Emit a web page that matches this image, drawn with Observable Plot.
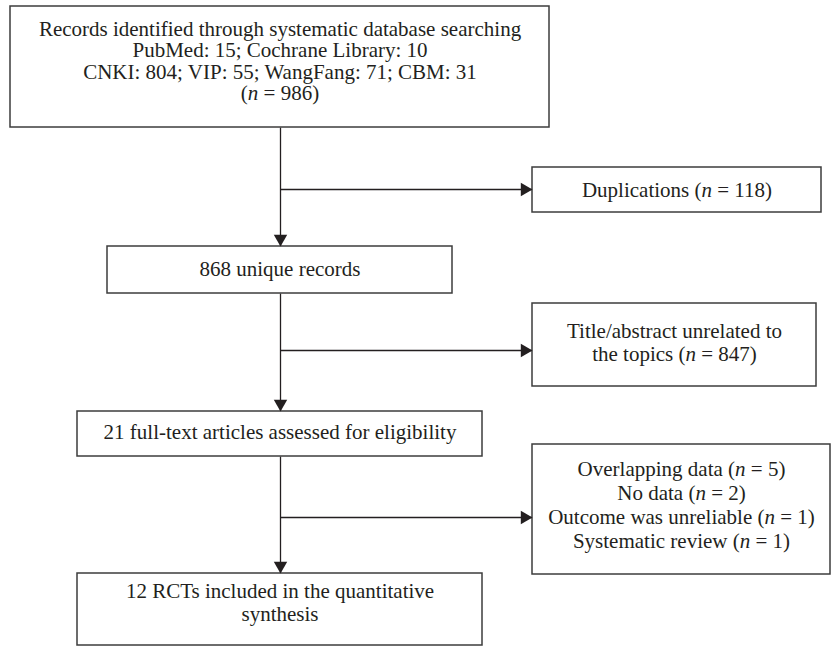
<!DOCTYPE html>
<html>
<head>
<meta charset="utf-8">
<script src="https://cdn.jsdelivr.net/npm/d3@7"></script>
<script src="https://cdn.jsdelivr.net/npm/@observablehq/plot@0.6"></script>
<style>
  html, body { margin: 0; padding: 0; background: #fff; }
  #chart { width: 831px; height: 646px; }
</style>
</head>
<body>
<div id="chart"></div>
<script>
// ---- data ----
const databases = ["PubMed", "Cochrane Library", "CNKI", "VIP", "WangFang", "CBM"];
const dbCounts = [15, 10, 804, 55, 71, 31];
const totalIdentified = 986;
const duplications = 118;
const uniqueRecords = 868;
const unrelated = 847;
const fullText = 21;
const exclusionReasons = ["Overlapping data", "No data", "Outcome was unreliable", "Systematic review"];
const exclusionCounts = [5, 2, 1, 1];
const included = 12;

const db = databases.map((d, i) => `${d}: ${dbCounts[i]}`);
const labels = [
  `Records identified through systematic database searching\n${db.slice(0, 2).join("; ")}\n${db.slice(2).join("; ")}\n(n = ${totalIdentified})`,
  `Duplications (n = ${duplications})`,
  `${uniqueRecords} unique records`,
  `Title/abstract unrelated to\nthe topics (n = ${unrelated})`,
  `${fullText} full-text articles assessed for eligibility`,
  exclusionReasons.map((r, i) => `${r} (n = ${exclusionCounts[i]})`).join("\n"),
  `${included} RCTs included in the quantitative\nsynthesis`
];

// ---- layout (pixels) ----
const boxX1 = [10, 532, 107, 532, 77, 532, 77];
const boxX2 = [549, 821, 452, 816, 482, 830, 482];
const boxY1 = [6, 167, 246, 303, 411, 444, 573];
const boxY2 = [127, 212, 293, 386, 456, 574, 645];
const textY = [60.7, 189.3, 268.3, 341.8, 431.3, 503.8, 602];
const lineH = [1.02, 1, 1, 1.1, 1, 1.14, 1.1];
const spineX = 280;
// flow steps: [from box, to box, side box, branch y]
const steps = [[0, 2, 1, 189], [2, 4, 3, 350], [4, 6, 5, 517]];

const boxes = labels.map((text, i) => ({
  text, x1: boxX1[i], x2: boxX2[i], y1: boxY1[i], y2: boxY2[i],
  tx: (boxX1[i] + boxX2[i]) / 2, ty: textY[i], lh: lineH[i]
}));

const headR = 5;
const tipOff = 2 * Math.sqrt((headR * headR * Math.PI) / (Math.sqrt(3) * 3));
const segs = [];
const heads = [];
for (const [a, b, s, by] of steps) {
  segs.push({x1: spineX, y1: boxY2[a], x2: spineX, y2: boxY1[b]});
  segs.push({x1: spineX, y1: by, x2: boxX1[s], y2: by});
  heads.push({x: spineX, y: boxY1[b] - tipOff, rot: 180});
  heads.push({x: boxX1[s] - tipOff, y: by, rot: 90});
}

const ink = "#231f20";
const font = "'Liberation Serif', 'Times New Roman', serif";

const svg = Plot.plot({
  width: 831,
  height: 646,
  margin: 0,
  x: {type: "linear", domain: [0, 831], range: [0, 831], axis: null},
  y: {type: "linear", domain: [0, 646], range: [0, 646], axis: null},
  style: {background: "#fff"},
  marks: [
    Plot.link(segs, {x1: "x1", y1: "y1", x2: "x2", y2: "y2", stroke: ink, strokeWidth: 1.3}),
    Plot.rect(boxes, {x1: "x1", x2: "x2", y1: "y1", y2: "y2", fill: "#fff", stroke: "#3c3c3c", strokeWidth: 1.5}),
    Plot.dot(heads, {x: "x", y: "y", symbol: "triangle", r: headR, fill: ink, stroke: "none", rotate: "rot"}),
    ...boxes.map(b => Plot.text([b], {
      x: "tx", y: "ty", text: "text", fontSize: 21, lineHeight: b.lh,
      fontFamily: font, fill: ink, textAnchor: "middle"
    }))
  ]
});

// italic "n" in "(n = ...)"
(function italicizeN(root) {
  const walker = document.createTreeWalker(root, NodeFilter.SHOW_TEXT);
  const nodes = [];
  while (walker.nextNode()) nodes.push(walker.currentNode);
  for (const node of nodes) {
    const s = node.nodeValue;
    const i = s.indexOf("(n =");
    if (i < 0) continue;
    const p = node.parentNode;
    const it = document.createElementNS("http://www.w3.org/2000/svg", "tspan");
    it.setAttribute("font-style", "italic");
    it.textContent = "n";
    p.insertBefore(document.createTextNode(s.slice(0, i + 1)), node);
    p.insertBefore(it, node);
    p.insertBefore(document.createTextNode(s.slice(i + 2)), node);
    p.removeChild(node);
  }
})(svg);

document.getElementById("chart").appendChild(svg);
</script>
</body>
</html>
